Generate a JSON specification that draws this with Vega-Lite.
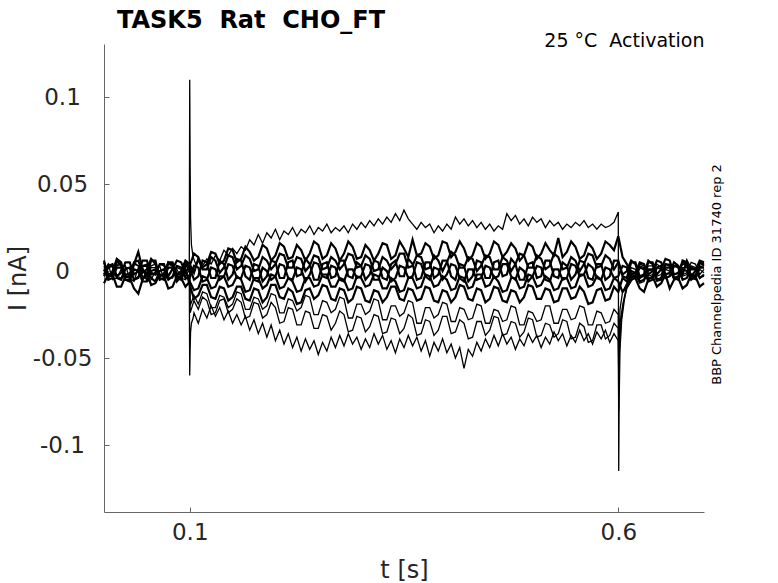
{
  "$schema": "https://vega.github.io/schema/vega-lite/v6.json",
  "width": 600,
  "height": 468,
  "autosize": {"type": "none"},
  "padding": {"left": 104, "top": 44, "right": 74, "bottom": 71},
  "background": "#FFFFFF",
  "config": {"view": {"stroke": null}, "font": "DejaVu Sans"},
  "title": {
    "text": "TASK5\u00a0 Rat\u00a0 CHO_FT",
    "anchor": "start",
    "frame": "group",
    "dx": 13,
    "offset": -21,
    "baseline": "alphabetic",
    "font": "DejaVu Sans",
    "fontSize": 24,
    "fontWeight": "bold",
    "color": "#000000"
  },
  "data": {
    "values": [
      {"k":"a","t":0,"v":0.002},{"k":"a","t":0.005,"v":-0.003},{"k":"a","t":0.01,"v":-0.003},{"k":"a","t":0.015,"v":0.003},{"k":"a","t":0.02,"v":0.004},
      {"k":"a","t":0.025,"v":-0.002},{"k":"a","t":0.03,"v":-0.002},{"k":"a","t":0.035,"v":0.004},{"k":"a","t":0.04,"v":0.003},{"k":"a","t":0.045,"v":-0.004},
      {"k":"a","t":0.05,"v":-0.004},{"k":"a","t":0.055,"v":0.002},{"k":"a","t":0.06,"v":0.002},{"k":"a","t":0.065,"v":-0.003},{"k":"a","t":0.07,"v":-0.001},
      {"k":"a","t":0.075,"v":0.005},{"k":"a","t":0.08,"v":0.004},{"k":"a","t":0.085,"v":-0.002},{"k":"a","t":0.09,"v":-0.002},{"k":"a","t":0.095,"v":0.003},
      {"k":"a","t":0.0995,"v":0.001},{"k":"a","t":0.1,"v":0.11},{"k":"a","t":0.1005,"v":0.06},{"k":"a","t":0.101,"v":0.03},{"k":"a","t":0.102,"v":0.015},
      {"k":"a","t":0.104,"v":0.008},{"k":"a","t":0.107,"v":0.004},
      {"k":"a","t":0.11,"v":0.006},{"k":"a","t":0.115,"v":0.003},{"k":"a","t":0.12,"v":0.007},{"k":"a","t":0.125,"v":0.004},{"k":"a","t":0.13,"v":0.009},
      {"k":"a","t":0.135,"v":0.006},{"k":"a","t":0.14,"v":0.012},{"k":"a","t":0.145,"v":0.009},{"k":"a","t":0.15,"v":0.013},{"k":"a","t":0.155,"v":0.01},
      {"k":"a","t":0.16,"v":0.014},{"k":"a","t":0.165,"v":0.012},{"k":"a","t":0.17,"v":0.018},{"k":"a","t":0.175,"v":0.015},{"k":"a","t":0.18,"v":0.021},
      {"k":"a","t":0.185,"v":0.016},{"k":"a","t":0.19,"v":0.022},{"k":"a","t":0.195,"v":0.019},{"k":"a","t":0.2,"v":0.024},{"k":"a","t":0.205,"v":0.018},
      {"k":"a","t":0.21,"v":0.023},{"k":"a","t":0.215,"v":0.021},{"k":"a","t":0.22,"v":0.025},{"k":"a","t":0.225,"v":0.02},{"k":"a","t":0.23,"v":0.024},
      {"k":"a","t":0.235,"v":0.022},{"k":"a","t":0.24,"v":0.026},{"k":"a","t":0.245,"v":0.021},{"k":"a","t":0.25,"v":0.025},{"k":"a","t":0.255,"v":0.023},
      {"k":"a","t":0.26,"v":0.027},{"k":"a","t":0.265,"v":0.022},{"k":"a","t":0.27,"v":0.025},{"k":"a","t":0.275,"v":0.023},{"k":"a","t":0.28,"v":0.026},
      {"k":"a","t":0.285,"v":0.022},{"k":"a","t":0.29,"v":0.027},{"k":"a","t":0.295,"v":0.024},{"k":"a","t":0.3,"v":0.028},{"k":"a","t":0.305,"v":0.025},
      {"k":"a","t":0.31,"v":0.029},{"k":"a","t":0.315,"v":0.026},{"k":"a","t":0.32,"v":0.03},{"k":"a","t":0.325,"v":0.027},{"k":"a","t":0.33,"v":0.031},
      {"k":"a","t":0.335,"v":0.028},{"k":"a","t":0.34,"v":0.033},{"k":"a","t":0.345,"v":0.029},{"k":"a","t":0.35,"v":0.035},{"k":"a","t":0.355,"v":0.03},
      {"k":"a","t":0.36,"v":0.027},{"k":"a","t":0.365,"v":0.024},{"k":"a","t":0.37,"v":0.028},{"k":"a","t":0.375,"v":0.025},{"k":"a","t":0.38,"v":0.027},
      {"k":"a","t":0.385,"v":0.022},{"k":"a","t":0.39,"v":0.026},{"k":"a","t":0.395,"v":0.023},{"k":"a","t":0.4,"v":0.027},{"k":"a","t":0.405,"v":0.024},
      {"k":"a","t":0.41,"v":0.031},{"k":"a","t":0.415,"v":0.027},{"k":"a","t":0.42,"v":0.03},{"k":"a","t":0.425,"v":0.026},{"k":"a","t":0.43,"v":0.029},
      {"k":"a","t":0.435,"v":0.025},{"k":"a","t":0.44,"v":0.028},{"k":"a","t":0.445,"v":0.024},{"k":"a","t":0.45,"v":0.027},{"k":"a","t":0.455,"v":0.023},
      {"k":"a","t":0.46,"v":0.026},{"k":"a","t":0.465,"v":0.024},{"k":"a","t":0.47,"v":0.033},{"k":"a","t":0.475,"v":0.029},{"k":"a","t":0.48,"v":0.032},
      {"k":"a","t":0.485,"v":0.027},{"k":"a","t":0.49,"v":0.03},{"k":"a","t":0.495,"v":0.026},{"k":"a","t":0.5,"v":0.031},{"k":"a","t":0.505,"v":0.028},
      {"k":"a","t":0.51,"v":0.03},{"k":"a","t":0.515,"v":0.025},{"k":"a","t":0.52,"v":0.029},{"k":"a","t":0.525,"v":0.026},{"k":"a","t":0.53,"v":0.028},
      {"k":"a","t":0.535,"v":0.024},{"k":"a","t":0.54,"v":0.027},{"k":"a","t":0.545,"v":0.025},{"k":"a","t":0.55,"v":0.028},{"k":"a","t":0.555,"v":0.026},
      {"k":"a","t":0.56,"v":0.029},{"k":"a","t":0.565,"v":0.025},{"k":"a","t":0.57,"v":0.027},{"k":"a","t":0.575,"v":0.024},{"k":"a","t":0.58,"v":0.027},
      {"k":"a","t":0.585,"v":0.025},{"k":"a","t":0.59,"v":0.026},{"k":"a","t":0.595,"v":0.028},{"k":"a","t":0.6,"v":0.034},
      {"k":"a","t":0.6005,"v":-0.115},{"k":"a","t":0.601,"v":-0.075},{"k":"a","t":0.602,"v":-0.045},{"k":"a","t":0.604,"v":-0.028},{"k":"a","t":0.607,"v":-0.017},
      {"k":"a","t":0.61,"v":-0.009},{"k":"a","t":0.615,"v":-0.005},{"k":"a","t":0.62,"v":-0.002},{"k":"a","t":0.625,"v":0.004},{"k":"a","t":0.63,"v":0.003},
      {"k":"a","t":0.635,"v":-0.003},{"k":"a","t":0.64,"v":-0.002},{"k":"a","t":0.645,"v":0.004},{"k":"a","t":0.65,"v":0.002},{"k":"a","t":0.655,"v":-0.004},
      {"k":"a","t":0.66,"v":-0.003},{"k":"a","t":0.665,"v":0.003},{"k":"a","t":0.67,"v":0.003},{"k":"a","t":0.675,"v":-0.002},{"k":"a","t":0.68,"v":-0.001},
      {"k":"a","t":0.685,"v":0.005},{"k":"a","t":0.69,"v":0.004},{"k":"a","t":0.695,"v":-0.002},{"k":"a","t":0.7,"v":0.001},

      {"k":"b","t":0,"v":-0.002},{"k":"b","t":0.005,"v":0.003},{"k":"b","t":0.01,"v":0.004},{"k":"b","t":0.015,"v":-0.003},{"k":"b","t":0.02,"v":-0.001},
      {"k":"b","t":0.025,"v":0.005},{"k":"b","t":0.03,"v":0.005},{"k":"b","t":0.035,"v":-0.002},{"k":"b","t":0.04,"v":0},{"k":"b","t":0.045,"v":0.006},
      {"k":"b","t":0.05,"v":0.006},{"k":"b","t":0.055,"v":-0.001},{"k":"b","t":0.06,"v":-0.002},{"k":"b","t":0.065,"v":0.004},{"k":"b","t":0.07,"v":0.004},
      {"k":"b","t":0.075,"v":-0.003},{"k":"b","t":0.08,"v":0.001},{"k":"b","t":0.085,"v":0.006},{"k":"b","t":0.09,"v":0.005},{"k":"b","t":0.095,"v":-0.001},
      {"k":"b","t":0.1,"v":0.003},{"k":"b","t":0.105,"v":0.01},{"k":"b","t":0.11,"v":0.008},{"k":"b","t":0.115,"v":0.002},{"k":"b","t":0.12,"v":0.004},
      {"k":"b","t":0.125,"v":0.011},{"k":"b","t":0.13,"v":0.01},{"k":"b","t":0.135,"v":0.004},{"k":"b","t":0.14,"v":0.006},{"k":"b","t":0.145,"v":0.013},
      {"k":"b","t":0.15,"v":0.012},{"k":"b","t":0.155,"v":0.005},{"k":"b","t":0.16,"v":0.007},{"k":"b","t":0.165,"v":0.014},{"k":"b","t":0.17,"v":0.011},
      {"k":"b","t":0.175,"v":0.006},{"k":"b","t":0.18,"v":0.008},{"k":"b","t":0.185,"v":0.015},{"k":"b","t":0.19,"v":0.013},{"k":"b","t":0.195,"v":0.006},
      {"k":"b","t":0.2,"v":0.009},{"k":"b","t":0.205,"v":0.016},{"k":"b","t":0.21,"v":0.014},{"k":"b","t":0.215,"v":0.007},{"k":"b","t":0.22,"v":0.008},
      {"k":"b","t":0.225,"v":0.015},{"k":"b","t":0.23,"v":0.012},{"k":"b","t":0.235,"v":0.006},{"k":"b","t":0.24,"v":0.01},{"k":"b","t":0.245,"v":0.017},
      {"k":"b","t":0.25,"v":0.015},{"k":"b","t":0.255,"v":0.007},{"k":"b","t":0.26,"v":0.009},{"k":"b","t":0.265,"v":0.016},{"k":"b","t":0.27,"v":0.013},
      {"k":"b","t":0.275,"v":0.006},{"k":"b","t":0.28,"v":0.01},{"k":"b","t":0.285,"v":0.017},{"k":"b","t":0.29,"v":0.014},{"k":"b","t":0.295,"v":0.007},
      {"k":"b","t":0.3,"v":0.008},{"k":"b","t":0.305,"v":0.015},{"k":"b","t":0.31,"v":0.012},{"k":"b","t":0.315,"v":0.006},{"k":"b","t":0.32,"v":0.01},
      {"k":"b","t":0.325,"v":0.016},{"k":"b","t":0.33,"v":0.015},{"k":"b","t":0.335,"v":0.007},{"k":"b","t":0.34,"v":0.009},{"k":"b","t":0.345,"v":0.017},
      {"k":"b","t":0.35,"v":0.013},{"k":"b","t":0.355,"v":0.008},{"k":"b","t":0.36,"v":0.018},{"k":"b","t":0.365,"v":0.009},{"k":"b","t":0.37,"v":0.01},
      {"k":"b","t":0.375,"v":0.016},{"k":"b","t":0.38,"v":0.014},{"k":"b","t":0.385,"v":0.007},{"k":"b","t":0.39,"v":0.009},{"k":"b","t":0.395,"v":0.017},
      {"k":"b","t":0.4,"v":0.016},{"k":"b","t":0.405,"v":0.008},{"k":"b","t":0.41,"v":0.011},{"k":"b","t":0.415,"v":0.017},{"k":"b","t":0.42,"v":0.013},
      {"k":"b","t":0.425,"v":0.006},{"k":"b","t":0.43,"v":0.009},{"k":"b","t":0.435,"v":0.016},{"k":"b","t":0.44,"v":0.014},{"k":"b","t":0.445,"v":0.007},
      {"k":"b","t":0.45,"v":0.01},{"k":"b","t":0.455,"v":0.017},{"k":"b","t":0.46,"v":0.015},{"k":"b","t":0.465,"v":0.008},{"k":"b","t":0.47,"v":0.011},
      {"k":"b","t":0.475,"v":0.016},{"k":"b","t":0.48,"v":0.013},{"k":"b","t":0.485,"v":0.006},{"k":"b","t":0.49,"v":0.009},{"k":"b","t":0.495,"v":0.016},
      {"k":"b","t":0.5,"v":0.014},{"k":"b","t":0.505,"v":0.007},{"k":"b","t":0.51,"v":0.01},{"k":"b","t":0.515,"v":0.016},{"k":"b","t":0.52,"v":0.012},
      {"k":"b","t":0.525,"v":0.009},{"k":"b","t":0.53,"v":0.019},{"k":"b","t":0.535,"v":0.008},{"k":"b","t":0.54,"v":0.011},{"k":"b","t":0.545,"v":0.017},
      {"k":"b","t":0.55,"v":0.014},{"k":"b","t":0.555,"v":0.007},{"k":"b","t":0.56,"v":0.009},{"k":"b","t":0.565,"v":0.016},{"k":"b","t":0.57,"v":0.013},
      {"k":"b","t":0.575,"v":0.007},{"k":"b","t":0.58,"v":0.01},{"k":"b","t":0.585,"v":0.017},{"k":"b","t":0.59,"v":0.015},{"k":"b","t":0.595,"v":0.012},
      {"k":"b","t":0.6,"v":0.02},{"k":"b","t":0.605,"v":0.008},{"k":"b","t":0.61,"v":0.004},{"k":"b","t":0.615,"v":-0.002},{"k":"b","t":0.62,"v":-0.001},
      {"k":"b","t":0.625,"v":0.005},{"k":"b","t":0.63,"v":0.004},{"k":"b","t":0.635,"v":-0.002},{"k":"b","t":0.64,"v":0},{"k":"b","t":0.645,"v":0.006},
      {"k":"b","t":0.65,"v":0.005},{"k":"b","t":0.655,"v":-0.002},{"k":"b","t":0.66,"v":-0.001},{"k":"b","t":0.665,"v":0.005},{"k":"b","t":0.67,"v":0.003},
      {"k":"b","t":0.675,"v":-0.002},{"k":"b","t":0.68,"v":0.006},{"k":"b","t":0.685,"v":0.001},{"k":"b","t":0.69,"v":0.001},{"k":"b","t":0.695,"v":0.005},
      {"k":"b","t":0.7,"v":0.004},

      {"k":"c","t":0,"v":0.005},{"k":"c","t":0.005,"v":-0.002},{"k":"c","t":0.01,"v":-0.001},{"k":"c","t":0.015,"v":0.006},{"k":"c","t":0.02,"v":0.003},
      {"k":"c","t":0.025,"v":-0.003},{"k":"c","t":0.03,"v":-0.003},{"k":"c","t":0.035,"v":0.005},{"k":"c","t":0.04,"v":0.006},{"k":"c","t":0.045,"v":-0.001},
      {"k":"c","t":0.05,"v":0.001},{"k":"c","t":0.055,"v":0.007},{"k":"c","t":0.06,"v":0.004},{"k":"c","t":0.065,"v":-0.003},{"k":"c","t":0.07,"v":-0.002},
      {"k":"c","t":0.075,"v":0.005},{"k":"c","t":0.08,"v":0.005},{"k":"c","t":0.085,"v":-0.002},{"k":"c","t":0.09,"v":0},{"k":"c","t":0.095,"v":0.006},
      {"k":"c","t":0.1,"v":0.004},{"k":"c","t":0.105,"v":-0.001},{"k":"c","t":0.11,"v":0.007},{"k":"c","t":0.115,"v":0.001},{"k":"c","t":0.12,"v":0.001},
      {"k":"c","t":0.125,"v":0.008},{"k":"c","t":0.13,"v":0.006},{"k":"c","t":0.135,"v":-0.001},{"k":"c","t":0.14,"v":0.002},{"k":"c","t":0.145,"v":0.009},
      {"k":"c","t":0.15,"v":0.008},{"k":"c","t":0.155,"v":0.001},{"k":"c","t":0.16,"v":0.003},{"k":"c","t":0.165,"v":0.009},{"k":"c","t":0.17,"v":0.007},
      {"k":"c","t":0.175,"v":0},{"k":"c","t":0.18,"v":0.001},{"k":"c","t":0.185,"v":0.008},{"k":"c","t":0.19,"v":0.006},{"k":"c","t":0.195,"v":0.001},
      {"k":"c","t":0.2,"v":0.004},{"k":"c","t":0.205,"v":0.01},{"k":"c","t":0.21,"v":0.009},{"k":"c","t":0.215,"v":0.002},{"k":"c","t":0.22,"v":0.002},
      {"k":"c","t":0.225,"v":0.008},{"k":"c","t":0.23,"v":0.007},{"k":"c","t":0.235,"v":0},{"k":"c","t":0.24,"v":0.003},{"k":"c","t":0.245,"v":0.009},
      {"k":"c","t":0.25,"v":0.008},{"k":"c","t":0.255,"v":0.001},{"k":"c","t":0.26,"v":0.002},{"k":"c","t":0.265,"v":0.008},{"k":"c","t":0.27,"v":0.006},
      {"k":"c","t":0.275,"v":0.001},{"k":"c","t":0.28,"v":0.004},{"k":"c","t":0.285,"v":0.01},{"k":"c","t":0.29,"v":0.009},{"k":"c","t":0.295,"v":0.002},
      {"k":"c","t":0.3,"v":0.003},{"k":"c","t":0.305,"v":0.009},{"k":"c","t":0.31,"v":0.007},{"k":"c","t":0.315,"v":0},{"k":"c","t":0.32,"v":0.001},
      {"k":"c","t":0.325,"v":0.008},{"k":"c","t":0.33,"v":0.006},{"k":"c","t":0.335,"v":0.001},{"k":"c","t":0.34,"v":0.004},{"k":"c","t":0.345,"v":0.01},
      {"k":"c","t":0.35,"v":0.01},{"k":"c","t":0.355,"v":0.002},{"k":"c","t":0.36,"v":0.003},{"k":"c","t":0.365,"v":0.009},{"k":"c","t":0.37,"v":0.008},
      {"k":"c","t":0.375,"v":0.001},{"k":"c","t":0.38,"v":0.002},{"k":"c","t":0.385,"v":0.009},{"k":"c","t":0.39,"v":0.006},{"k":"c","t":0.395,"v":0},
      {"k":"c","t":0.4,"v":0.005},{"k":"c","t":0.405,"v":0.011},{"k":"c","t":0.41,"v":0.009},{"k":"c","t":0.415,"v":0.002},{"k":"c","t":0.42,"v":0.002},
      {"k":"c","t":0.425,"v":0.008},{"k":"c","t":0.43,"v":0.007},{"k":"c","t":0.435,"v":0},{"k":"c","t":0.44,"v":0.003},{"k":"c","t":0.445,"v":0.009},
      {"k":"c","t":0.45,"v":0.008},{"k":"c","t":0.455,"v":0.001},{"k":"c","t":0.46,"v":0.001},{"k":"c","t":0.465,"v":0.008},{"k":"c","t":0.47,"v":0.006},
      {"k":"c","t":0.475,"v":0},{"k":"c","t":0.48,"v":0.004},{"k":"c","t":0.485,"v":0.01},{"k":"c","t":0.49,"v":0.009},{"k":"c","t":0.495,"v":0.002},
      {"k":"c","t":0.5,"v":0.002},{"k":"c","t":0.505,"v":0.009},{"k":"c","t":0.51,"v":0.007},{"k":"c","t":0.515,"v":0.001},{"k":"c","t":0.52,"v":0.003},
      {"k":"c","t":0.525,"v":0.01},{"k":"c","t":0.53,"v":0.008},{"k":"c","t":0.535,"v":0.001},{"k":"c","t":0.54,"v":0.002},{"k":"c","t":0.545,"v":0.008},
      {"k":"c","t":0.55,"v":0.006},{"k":"c","t":0.555,"v":0},{"k":"c","t":0.56,"v":0.004},{"k":"c","t":0.565,"v":0.01},{"k":"c","t":0.57,"v":0.009},
      {"k":"c","t":0.575,"v":0.002},{"k":"c","t":0.58,"v":0.003},{"k":"c","t":0.585,"v":0.009},{"k":"c","t":0.59,"v":0.007},{"k":"c","t":0.595,"v":0.001},
      {"k":"c","t":0.6,"v":0.005},{"k":"c","t":0.605,"v":-0.002},{"k":"c","t":0.61,"v":0},{"k":"c","t":0.615,"v":0.006},{"k":"c","t":0.62,"v":0.004},
      {"k":"c","t":0.625,"v":-0.003},{"k":"c","t":0.63,"v":-0.002},{"k":"c","t":0.635,"v":0.005},{"k":"c","t":0.64,"v":0.005},{"k":"c","t":0.645,"v":-0.002},
      {"k":"c","t":0.65,"v":0.001},{"k":"c","t":0.655,"v":0.007},{"k":"c","t":0.66,"v":0.006},{"k":"c","t":0.665,"v":-0.002},{"k":"c","t":0.67,"v":-0.001},
      {"k":"c","t":0.675,"v":0.005},{"k":"c","t":0.68,"v":0.004},{"k":"c","t":0.685,"v":-0.003},{"k":"c","t":0.69,"v":0},{"k":"c","t":0.695,"v":0.006},
      {"k":"c","t":0.7,"v":0.005},

      {"k":"d","t":0,"v":-0.003},{"k":"d","t":0.005,"v":0.002},{"k":"d","t":0.01,"v":0.003},{"k":"d","t":0.015,"v":-0.004},{"k":"d","t":0.02,"v":-0.005},
      {"k":"d","t":0.025,"v":0.001},{"k":"d","t":0.03,"v":0.002},{"k":"d","t":0.035,"v":-0.005},{"k":"d","t":0.04,"v":-0.004},{"k":"d","t":0.045,"v":0.003},
      {"k":"d","t":0.05,"v":0.003},{"k":"d","t":0.055,"v":-0.004},{"k":"d","t":0.06,"v":-0.006},{"k":"d","t":0.065,"v":0},{"k":"d","t":0.07,"v":0.001},
      {"k":"d","t":0.075,"v":-0.005},{"k":"d","t":0.08,"v":-0.003},{"k":"d","t":0.085,"v":0.003},{"k":"d","t":0.09,"v":0.002},{"k":"d","t":0.095,"v":-0.004},
      {"k":"d","t":0.1,"v":-0.004},{"k":"d","t":0.105,"v":0.003},{"k":"d","t":0.11,"v":0.002},{"k":"d","t":0.115,"v":-0.006},{"k":"d","t":0.12,"v":-0.005},
      {"k":"d","t":0.125,"v":0.002},{"k":"d","t":0.13,"v":0.001},{"k":"d","t":0.135,"v":-0.005},{"k":"d","t":0.14,"v":-0.003},{"k":"d","t":0.145,"v":0.004},
      {"k":"d","t":0.15,"v":0.003},{"k":"d","t":0.155,"v":-0.004},{"k":"d","t":0.16,"v":-0.004},{"k":"d","t":0.165,"v":0.003},{"k":"d","t":0.17,"v":0.002},
      {"k":"d","t":0.175,"v":-0.005},{"k":"d","t":0.18,"v":-0.006},{"k":"d","t":0.185,"v":0.002},{"k":"d","t":0.19,"v":0},{"k":"d","t":0.195,"v":-0.005},
      {"k":"d","t":0.2,"v":-0.003},{"k":"d","t":0.205,"v":0.004},{"k":"d","t":0.21,"v":0.003},{"k":"d","t":0.215,"v":-0.004},{"k":"d","t":0.22,"v":-0.005},
      {"k":"d","t":0.225,"v":0.002},{"k":"d","t":0.23,"v":0.001},{"k":"d","t":0.235,"v":-0.006},{"k":"d","t":0.24,"v":-0.002},{"k":"d","t":0.245,"v":0.005},
      {"k":"d","t":0.25,"v":0.004},{"k":"d","t":0.255,"v":-0.003},{"k":"d","t":0.26,"v":-0.004},{"k":"d","t":0.265,"v":0.003},{"k":"d","t":0.27,"v":0.002},
      {"k":"d","t":0.275,"v":-0.005},{"k":"d","t":0.28,"v":-0.006},{"k":"d","t":0.285,"v":0.001},{"k":"d","t":0.29,"v":0.001},{"k":"d","t":0.295,"v":-0.004},
      {"k":"d","t":0.3,"v":-0.003},{"k":"d","t":0.305,"v":0.004},{"k":"d","t":0.31,"v":0.003},{"k":"d","t":0.315,"v":-0.005},{"k":"d","t":0.32,"v":-0.005},
      {"k":"d","t":0.325,"v":0.002},{"k":"d","t":0.33,"v":0},{"k":"d","t":0.335,"v":-0.006},{"k":"d","t":0.34,"v":-0.004},{"k":"d","t":0.345,"v":0.003},
      {"k":"d","t":0.35,"v":0.002},{"k":"d","t":0.355,"v":-0.004},{"k":"d","t":0.36,"v":-0.003},{"k":"d","t":0.365,"v":0.005},{"k":"d","t":0.37,"v":0.004},
      {"k":"d","t":0.375,"v":-0.003},{"k":"d","t":0.38,"v":-0.005},{"k":"d","t":0.385,"v":0.002},{"k":"d","t":0.39,"v":0.001},{"k":"d","t":0.395,"v":-0.005},
      {"k":"d","t":0.4,"v":-0.002},{"k":"d","t":0.405,"v":0.004},{"k":"d","t":0.41,"v":0.003},{"k":"d","t":0.415,"v":-0.004},{"k":"d","t":0.42,"v":-0.006},
      {"k":"d","t":0.425,"v":0.001},{"k":"d","t":0.43,"v":0.001},{"k":"d","t":0.435,"v":-0.005},{"k":"d","t":0.44,"v":-0.004},{"k":"d","t":0.445,"v":0.003},
      {"k":"d","t":0.45,"v":0.002},{"k":"d","t":0.455,"v":-0.004},{"k":"d","t":0.46,"v":-0.003},{"k":"d","t":0.465,"v":0.004},{"k":"d","t":0.47,"v":0.004},
      {"k":"d","t":0.475,"v":-0.003},{"k":"d","t":0.48,"v":-0.005},{"k":"d","t":0.485,"v":0.002},{"k":"d","t":0.49,"v":0},{"k":"d","t":0.495,"v":-0.006},
      {"k":"d","t":0.5,"v":-0.003},{"k":"d","t":0.505,"v":0.003},{"k":"d","t":0.51,"v":0.002},{"k":"d","t":0.515,"v":-0.005},{"k":"d","t":0.52,"v":-0.006},
      {"k":"d","t":0.525,"v":0.001},{"k":"d","t":0.53,"v":0.001},{"k":"d","t":0.535,"v":-0.005},{"k":"d","t":0.54,"v":-0.004},{"k":"d","t":0.545,"v":0.004},
      {"k":"d","t":0.55,"v":0.003},{"k":"d","t":0.555,"v":-0.003},{"k":"d","t":0.56,"v":-0.002},{"k":"d","t":0.565,"v":0.004},{"k":"d","t":0.57,"v":0.002},
      {"k":"d","t":0.575,"v":-0.004},{"k":"d","t":0.58,"v":-0.005},{"k":"d","t":0.585,"v":0.002},{"k":"d","t":0.59,"v":0.001},{"k":"d","t":0.595,"v":-0.004},
      {"k":"d","t":0.6,"v":-0.003},{"k":"d","t":0.605,"v":0.003},{"k":"d","t":0.61,"v":0.002},{"k":"d","t":0.615,"v":-0.005},{"k":"d","t":0.62,"v":-0.004},
      {"k":"d","t":0.625,"v":0.002},{"k":"d","t":0.63,"v":0.001},{"k":"d","t":0.635,"v":-0.006},{"k":"d","t":0.64,"v":-0.005},{"k":"d","t":0.645,"v":0.002},
      {"k":"d","t":0.65,"v":0.003},{"k":"d","t":0.655,"v":-0.004},{"k":"d","t":0.66,"v":-0.003},{"k":"d","t":0.665,"v":0.003},{"k":"d","t":0.67,"v":0.002},
      {"k":"d","t":0.675,"v":-0.005},{"k":"d","t":0.68,"v":-0.004},{"k":"d","t":0.685,"v":0.002},{"k":"d","t":0.69,"v":0.001},{"k":"d","t":0.695,"v":-0.004},
      {"k":"d","t":0.7,"v":-0.002},

      {"k":"e","t":0,"v":-0.007},{"k":"e","t":0.005,"v":-0.002},{"k":"e","t":0.01,"v":-0.002},{"k":"e","t":0.015,"v":-0.009},{"k":"e","t":0.02,"v":-0.009},
      {"k":"e","t":0.025,"v":-0.003},{"k":"e","t":0.03,"v":-0.004},{"k":"e","t":0.035,"v":-0.01},{"k":"e","t":0.04,"v":-0.013},{"k":"e","t":0.045,"v":-0.005},
      {"k":"e","t":0.05,"v":-0.001},{"k":"e","t":0.055,"v":-0.008},{"k":"e","t":0.06,"v":-0.007},{"k":"e","t":0.065,"v":-0.002},{"k":"e","t":0.07,"v":-0.003},
      {"k":"e","t":0.075,"v":-0.01},{"k":"e","t":0.08,"v":-0.009},{"k":"e","t":0.085,"v":-0.003},{"k":"e","t":0.09,"v":-0.004},{"k":"e","t":0.095,"v":-0.009},
      {"k":"e","t":0.1,"v":-0.006},{"k":"e","t":0.105,"v":-0.011},{"k":"e","t":0.11,"v":-0.01},{"k":"e","t":0.115,"v":-0.003},{"k":"e","t":0.12,"v":-0.004},
      {"k":"e","t":0.125,"v":-0.01},{"k":"e","t":0.13,"v":-0.009},{"k":"e","t":0.135,"v":-0.003},{"k":"e","t":0.14,"v":-0.003},{"k":"e","t":0.145,"v":-0.009},
      {"k":"e","t":0.15,"v":-0.008},{"k":"e","t":0.155,"v":-0.003},{"k":"e","t":0.16,"v":-0.005},{"k":"e","t":0.165,"v":-0.012},{"k":"e","t":0.17,"v":-0.011},
      {"k":"e","t":0.175,"v":-0.004},{"k":"e","t":0.18,"v":-0.004},{"k":"e","t":0.185,"v":-0.01},{"k":"e","t":0.19,"v":-0.008},{"k":"e","t":0.195,"v":-0.002},
      {"k":"e","t":0.2,"v":-0.003},{"k":"e","t":0.205,"v":-0.01},{"k":"e","t":0.21,"v":-0.009},{"k":"e","t":0.215,"v":-0.004},{"k":"e","t":0.22,"v":-0.006},
      {"k":"e","t":0.225,"v":-0.012},{"k":"e","t":0.23,"v":-0.011},{"k":"e","t":0.235,"v":-0.004},{"k":"e","t":0.24,"v":-0.004},{"k":"e","t":0.245,"v":-0.009},
      {"k":"e","t":0.25,"v":-0.008},{"k":"e","t":0.255,"v":-0.002},{"k":"e","t":0.26,"v":-0.002},{"k":"e","t":0.265,"v":-0.009},{"k":"e","t":0.27,"v":-0.009},
      {"k":"e","t":0.275,"v":-0.004},{"k":"e","t":0.28,"v":-0.005},{"k":"e","t":0.285,"v":-0.011},{"k":"e","t":0.29,"v":-0.01},{"k":"e","t":0.295,"v":-0.003},
      {"k":"e","t":0.3,"v":-0.004},{"k":"e","t":0.305,"v":-0.009},{"k":"e","t":0.31,"v":-0.008},{"k":"e","t":0.315,"v":-0.002},{"k":"e","t":0.32,"v":-0.003},
      {"k":"e","t":0.325,"v":-0.01},{"k":"e","t":0.33,"v":-0.01},{"k":"e","t":0.335,"v":-0.004},{"k":"e","t":0.34,"v":-0.006},{"k":"e","t":0.345,"v":-0.012},
      {"k":"e","t":0.35,"v":-0.011},{"k":"e","t":0.355,"v":-0.004},{"k":"e","t":0.36,"v":-0.004},{"k":"e","t":0.365,"v":-0.01},{"k":"e","t":0.37,"v":-0.009},
      {"k":"e","t":0.375,"v":-0.002},{"k":"e","t":0.38,"v":-0.003},{"k":"e","t":0.385,"v":-0.009},{"k":"e","t":0.39,"v":-0.008},{"k":"e","t":0.395,"v":-0.003},
      {"k":"e","t":0.4,"v":-0.005},{"k":"e","t":0.405,"v":-0.011},{"k":"e","t":0.41,"v":-0.01},{"k":"e","t":0.415,"v":-0.003},{"k":"e","t":0.42,"v":-0.004},
      {"k":"e","t":0.425,"v":-0.01},{"k":"e","t":0.43,"v":-0.009},{"k":"e","t":0.435,"v":-0.002},{"k":"e","t":0.44,"v":-0.002},{"k":"e","t":0.445,"v":-0.009},
      {"k":"e","t":0.45,"v":-0.008},{"k":"e","t":0.455,"v":-0.003},{"k":"e","t":0.46,"v":-0.006},{"k":"e","t":0.465,"v":-0.012},{"k":"e","t":0.47,"v":-0.011},
      {"k":"e","t":0.475,"v":-0.004},{"k":"e","t":0.48,"v":-0.004},{"k":"e","t":0.485,"v":-0.01},{"k":"e","t":0.49,"v":-0.009},{"k":"e","t":0.495,"v":-0.002},
      {"k":"e","t":0.5,"v":-0.003},{"k":"e","t":0.505,"v":-0.009},{"k":"e","t":0.51,"v":-0.008},{"k":"e","t":0.515,"v":-0.003},{"k":"e","t":0.52,"v":-0.005},
      {"k":"e","t":0.525,"v":-0.011},{"k":"e","t":0.53,"v":-0.01},{"k":"e","t":0.535,"v":-0.004},{"k":"e","t":0.54,"v":-0.004},{"k":"e","t":0.545,"v":-0.01},
      {"k":"e","t":0.55,"v":-0.009},{"k":"e","t":0.555,"v":-0.002},{"k":"e","t":0.56,"v":-0.002},{"k":"e","t":0.565,"v":-0.009},{"k":"e","t":0.57,"v":-0.008},
      {"k":"e","t":0.575,"v":-0.003},{"k":"e","t":0.58,"v":-0.005},{"k":"e","t":0.585,"v":-0.011},{"k":"e","t":0.59,"v":-0.01},{"k":"e","t":0.595,"v":-0.004},
      {"k":"e","t":0.6,"v":-0.006},{"k":"e","t":0.605,"v":-0.012},{"k":"e","t":0.61,"v":-0.009},{"k":"e","t":0.615,"v":-0.003},{"k":"e","t":0.62,"v":-0.004},
      {"k":"e","t":0.625,"v":-0.01},{"k":"e","t":0.63,"v":-0.012},{"k":"e","t":0.635,"v":-0.005},{"k":"e","t":0.64,"v":-0.003},{"k":"e","t":0.645,"v":-0.009},
      {"k":"e","t":0.65,"v":-0.007},{"k":"e","t":0.655,"v":-0.002},{"k":"e","t":0.66,"v":-0.01},{"k":"e","t":0.665,"v":-0.005},{"k":"e","t":0.67,"v":-0.004},
      {"k":"e","t":0.675,"v":-0.01},{"k":"e","t":0.68,"v":-0.008},{"k":"e","t":0.685,"v":-0.002},{"k":"e","t":0.69,"v":-0.003},{"k":"e","t":0.695,"v":-0.009},
      {"k":"e","t":0.7,"v":-0.007},

      {"k":"f","t":0,"v":0.001},{"k":"f","t":0.005,"v":-0.005},{"k":"f","t":0.01,"v":-0.004},{"k":"f","t":0.015,"v":0.002},{"k":"f","t":0.02,"v":0.002},
      {"k":"f","t":0.025,"v":-0.005},{"k":"f","t":0.03,"v":-0.005},{"k":"f","t":0.035,"v":0.001},{"k":"f","t":0.04,"v":0},{"k":"f","t":0.045,"v":-0.006},
      {"k":"f","t":0.05,"v":-0.006},{"k":"f","t":0.055,"v":0},{"k":"f","t":0.06,"v":0.001},{"k":"f","t":0.065,"v":-0.005},{"k":"f","t":0.07,"v":-0.004},
      {"k":"f","t":0.075,"v":0.002},{"k":"f","t":0.08,"v":0.002},{"k":"f","t":0.085,"v":-0.004},{"k":"f","t":0.09,"v":-0.005},{"k":"f","t":0.095,"v":0.001},
      {"k":"f","t":0.1,"v":-0.008},{"k":"f","t":0.105,"v":-0.016},{"k":"f","t":0.11,"v":-0.014},{"k":"f","t":0.115,"v":-0.008},{"k":"f","t":0.12,"v":-0.008},
      {"k":"f","t":0.125,"v":-0.015},{"k":"f","t":0.13,"v":-0.016},{"k":"f","t":0.135,"v":-0.009},{"k":"f","t":0.14,"v":-0.01},{"k":"f","t":0.145,"v":-0.017},
      {"k":"f","t":0.15,"v":-0.015},{"k":"f","t":0.155,"v":-0.009},{"k":"f","t":0.16,"v":-0.009},{"k":"f","t":0.165,"v":-0.016},{"k":"f","t":0.17,"v":-0.017},
      {"k":"f","t":0.175,"v":-0.01},{"k":"f","t":0.18,"v":-0.011},{"k":"f","t":0.185,"v":-0.018},{"k":"f","t":0.19,"v":-0.015},{"k":"f","t":0.195,"v":-0.008},
      {"k":"f","t":0.2,"v":-0.008},{"k":"f","t":0.205,"v":-0.015},{"k":"f","t":0.21,"v":-0.016},{"k":"f","t":0.215,"v":-0.01},{"k":"f","t":0.22,"v":-0.012},
      {"k":"f","t":0.225,"v":-0.019},{"k":"f","t":0.23,"v":-0.018},{"k":"f","t":0.235,"v":-0.011},{"k":"f","t":0.24,"v":-0.01},{"k":"f","t":0.245,"v":-0.016},
      {"k":"f","t":0.25,"v":-0.014},{"k":"f","t":0.255,"v":-0.008},{"k":"f","t":0.26,"v":-0.009},{"k":"f","t":0.265,"v":-0.016},{"k":"f","t":0.27,"v":-0.017},
      {"k":"f","t":0.275,"v":-0.01},{"k":"f","t":0.28,"v":-0.011},{"k":"f","t":0.285,"v":-0.018},{"k":"f","t":0.29,"v":-0.016},{"k":"f","t":0.295,"v":-0.009},
      {"k":"f","t":0.3,"v":-0.01},{"k":"f","t":0.305,"v":-0.017},{"k":"f","t":0.31,"v":-0.018},{"k":"f","t":0.315,"v":-0.011},{"k":"f","t":0.32,"v":-0.012},
      {"k":"f","t":0.325,"v":-0.018},{"k":"f","t":0.33,"v":-0.015},{"k":"f","t":0.335,"v":-0.009},{"k":"f","t":0.34,"v":-0.009},{"k":"f","t":0.345,"v":-0.016},
      {"k":"f","t":0.35,"v":-0.017},{"k":"f","t":0.355,"v":-0.01},{"k":"f","t":0.36,"v":-0.011},{"k":"f","t":0.365,"v":-0.017},{"k":"f","t":0.37,"v":-0.016},
      {"k":"f","t":0.375,"v":-0.009},{"k":"f","t":0.38,"v":-0.01},{"k":"f","t":0.385,"v":-0.017},{"k":"f","t":0.39,"v":-0.018},{"k":"f","t":0.395,"v":-0.011},
      {"k":"f","t":0.4,"v":-0.012},{"k":"f","t":0.405,"v":-0.018},{"k":"f","t":0.41,"v":-0.015},{"k":"f","t":0.415,"v":-0.008},{"k":"f","t":0.42,"v":-0.009},
      {"k":"f","t":0.425,"v":-0.016},{"k":"f","t":0.43,"v":-0.017},{"k":"f","t":0.435,"v":-0.01},{"k":"f","t":0.44,"v":-0.011},{"k":"f","t":0.445,"v":-0.018},
      {"k":"f","t":0.45,"v":-0.016},{"k":"f","t":0.455,"v":-0.009},{"k":"f","t":0.46,"v":-0.01},{"k":"f","t":0.465,"v":-0.017},{"k":"f","t":0.47,"v":-0.018},
      {"k":"f","t":0.475,"v":-0.011},{"k":"f","t":0.48,"v":-0.012},{"k":"f","t":0.485,"v":-0.018},{"k":"f","t":0.49,"v":-0.015},{"k":"f","t":0.495,"v":-0.008},
      {"k":"f","t":0.5,"v":-0.009},{"k":"f","t":0.505,"v":-0.016},{"k":"f","t":0.51,"v":-0.016},{"k":"f","t":0.515,"v":-0.01},{"k":"f","t":0.52,"v":-0.011},
      {"k":"f","t":0.525,"v":-0.018},{"k":"f","t":0.53,"v":-0.017},{"k":"f","t":0.535,"v":-0.01},{"k":"f","t":0.54,"v":-0.01},{"k":"f","t":0.545,"v":-0.016},
      {"k":"f","t":0.55,"v":-0.015},{"k":"f","t":0.555,"v":-0.009},{"k":"f","t":0.56,"v":-0.012},{"k":"f","t":0.565,"v":-0.019},{"k":"f","t":0.57,"v":-0.018},
      {"k":"f","t":0.575,"v":-0.011},{"k":"f","t":0.58,"v":-0.01},{"k":"f","t":0.585,"v":-0.017},{"k":"f","t":0.59,"v":-0.016},{"k":"f","t":0.595,"v":-0.009},
      {"k":"f","t":0.6,"v":-0.012},{"k":"f","t":0.605,"v":-0.004},{"k":"f","t":0.61,"v":-0.006},{"k":"f","t":0.615,"v":0},{"k":"f","t":0.62,"v":-0.001},
      {"k":"f","t":0.625,"v":-0.006},{"k":"f","t":0.63,"v":-0.005},{"k":"f","t":0.635,"v":0.001},{"k":"f","t":0.64,"v":0.001},{"k":"f","t":0.645,"v":-0.005},
      {"k":"f","t":0.65,"v":-0.004},{"k":"f","t":0.655,"v":0.002},{"k":"f","t":0.66,"v":0.002},{"k":"f","t":0.665,"v":-0.004},{"k":"f","t":0.67,"v":-0.005},
      {"k":"f","t":0.675,"v":0.001},{"k":"f","t":0.68,"v":0},{"k":"f","t":0.685,"v":-0.005},{"k":"f","t":0.69,"v":-0.003},{"k":"f","t":0.695,"v":0.002},
      {"k":"f","t":0.7,"v":0.002},

      {"k":"g","t":0,"v":-0.002},{"k":"g","t":0.005,"v":0.004},{"k":"g","t":0.01,"v":0.003},{"k":"g","t":0.015,"v":-0.003},{"k":"g","t":0.02,"v":-0.004},
      {"k":"g","t":0.025,"v":0.002},{"k":"g","t":0.03,"v":0.002},{"k":"g","t":0.035,"v":-0.005},{"k":"g","t":0.04,"v":-0.003},{"k":"g","t":0.045,"v":0.003},
      {"k":"g","t":0.05,"v":0.004},{"k":"g","t":0.055,"v":-0.002},{"k":"g","t":0.06,"v":-0.002},{"k":"g","t":0.065,"v":0.004},{"k":"g","t":0.07,"v":0.003},
      {"k":"g","t":0.075,"v":-0.004},{"k":"g","t":0.08,"v":-0.004},{"k":"g","t":0.085,"v":0.002},{"k":"g","t":0.09,"v":0.001},{"k":"g","t":0.095,"v":-0.003},
      {"k":"g","t":0.1,"v":0.001},{"k":"g","t":0.1005,"v":-0.024},
      {"k":"g","t":0.105,"v":-0.017},{"k":"g","t":0.11,"v":-0.022},{"k":"g","t":0.115,"v":-0.015},{"k":"g","t":0.12,"v":-0.017},{"k":"g","t":0.125,"v":-0.025},
      {"k":"g","t":0.13,"v":-0.024},{"k":"g","t":0.135,"v":-0.017},{"k":"g","t":0.14,"v":-0.016},{"k":"g","t":0.145,"v":-0.024},{"k":"g","t":0.15,"v":-0.022},
      {"k":"g","t":0.155,"v":-0.016},{"k":"g","t":0.16,"v":-0.018},{"k":"g","t":0.165,"v":-0.027},{"k":"g","t":0.17,"v":-0.026},{"k":"g","t":0.175,"v":-0.018},
      {"k":"g","t":0.18,"v":-0.019},{"k":"g","t":0.185,"v":-0.027},{"k":"g","t":0.19,"v":-0.025},{"k":"g","t":0.195,"v":-0.018},{"k":"g","t":0.2,"v":-0.021},
      {"k":"g","t":0.205,"v":-0.03},{"k":"g","t":0.21,"v":-0.029},{"k":"g","t":0.215,"v":-0.021},{"k":"g","t":0.22,"v":-0.022},{"k":"g","t":0.225,"v":-0.031},
      {"k":"g","t":0.23,"v":-0.031},{"k":"g","t":0.235,"v":-0.023},{"k":"g","t":0.24,"v":-0.024},{"k":"g","t":0.245,"v":-0.033},{"k":"g","t":0.25,"v":-0.033},
      {"k":"g","t":0.255,"v":-0.025},{"k":"g","t":0.26,"v":-0.026},{"k":"g","t":0.265,"v":-0.034},{"k":"g","t":0.27,"v":-0.03},{"k":"g","t":0.275,"v":-0.023},
      {"k":"g","t":0.28,"v":-0.025},{"k":"g","t":0.285,"v":-0.035},{"k":"g","t":0.29,"v":-0.034},{"k":"g","t":0.295,"v":-0.026},{"k":"g","t":0.3,"v":-0.027},
      {"k":"g","t":0.305,"v":-0.035},{"k":"g","t":0.31,"v":-0.032},{"k":"g","t":0.315,"v":-0.025},{"k":"g","t":0.32,"v":-0.026},{"k":"g","t":0.325,"v":-0.036},
      {"k":"g","t":0.33,"v":-0.035},{"k":"g","t":0.335,"v":-0.027},{"k":"g","t":0.34,"v":-0.028},{"k":"g","t":0.345,"v":-0.036},{"k":"g","t":0.35,"v":-0.033},
      {"k":"g","t":0.355,"v":-0.025},{"k":"g","t":0.36,"v":-0.027},{"k":"g","t":0.365,"v":-0.037},{"k":"g","t":0.37,"v":-0.036},{"k":"g","t":0.375,"v":-0.028},
      {"k":"g","t":0.38,"v":-0.029},{"k":"g","t":0.385,"v":-0.037},{"k":"g","t":0.39,"v":-0.034},{"k":"g","t":0.395,"v":-0.026},{"k":"g","t":0.4,"v":-0.026},
      {"k":"g","t":0.405,"v":-0.036},{"k":"g","t":0.41,"v":-0.035},{"k":"g","t":0.415,"v":-0.028},{"k":"g","t":0.42,"v":-0.03},{"k":"g","t":0.425,"v":-0.039},
      {"k":"g","t":0.43,"v":-0.038},{"k":"g","t":0.435,"v":-0.029},{"k":"g","t":0.44,"v":-0.029},{"k":"g","t":0.445,"v":-0.037},{"k":"g","t":0.45,"v":-0.034},
      {"k":"g","t":0.455,"v":-0.026},{"k":"g","t":0.46,"v":-0.027},{"k":"g","t":0.465,"v":-0.037},{"k":"g","t":0.47,"v":-0.036},{"k":"g","t":0.475,"v":-0.029},
      {"k":"g","t":0.48,"v":-0.03},{"k":"g","t":0.485,"v":-0.038},{"k":"g","t":0.49,"v":-0.035},{"k":"g","t":0.495,"v":-0.027},{"k":"g","t":0.5,"v":-0.028},
      {"k":"g","t":0.505,"v":-0.038},{"k":"g","t":0.51,"v":-0.037},{"k":"g","t":0.515,"v":-0.03},{"k":"g","t":0.52,"v":-0.031},{"k":"g","t":0.525,"v":-0.038},
      {"k":"g","t":0.53,"v":-0.036},{"k":"g","t":0.535,"v":-0.028},{"k":"g","t":0.54,"v":-0.029},{"k":"g","t":0.545,"v":-0.039},{"k":"g","t":0.55,"v":-0.038},
      {"k":"g","t":0.555,"v":-0.03},{"k":"g","t":0.56,"v":-0.032},{"k":"g","t":0.565,"v":-0.041},{"k":"g","t":0.57,"v":-0.04},{"k":"g","t":0.575,"v":-0.031},
      {"k":"g","t":0.58,"v":-0.031},{"k":"g","t":0.585,"v":-0.039},{"k":"g","t":0.59,"v":-0.037},{"k":"g","t":0.595,"v":-0.03},{"k":"g","t":0.6,"v":-0.033},
      {"k":"g","t":0.6005,"v":-0.06},{"k":"g","t":0.602,"v":-0.03},{"k":"g","t":0.605,"v":-0.02},{"k":"g","t":0.61,"v":-0.008},{"k":"g","t":0.615,"v":-0.002},
      {"k":"g","t":0.62,"v":-0.003},{"k":"g","t":0.625,"v":0.003},{"k":"g","t":0.63,"v":0.002},{"k":"g","t":0.635,"v":-0.004},{"k":"g","t":0.64,"v":-0.004},
      {"k":"g","t":0.645,"v":0.002},{"k":"g","t":0.65,"v":0.001},{"k":"g","t":0.655,"v":-0.004},{"k":"g","t":0.66,"v":-0.003},{"k":"g","t":0.665,"v":0.003},
      {"k":"g","t":0.67,"v":0.003},{"k":"g","t":0.675,"v":-0.003},{"k":"g","t":0.68,"v":-0.002},{"k":"g","t":0.685,"v":0.003},{"k":"g","t":0.69,"v":0.002},
      {"k":"g","t":0.695,"v":-0.004},{"k":"g","t":0.7,"v":-0.003},

      {"k":"h","t":0,"v":0},{"k":"h","t":0.005,"v":0.004},{"k":"h","t":0.01,"v":-0.005},{"k":"h","t":0.015,"v":-0.004},{"k":"h","t":0.02,"v":0.001},
      {"k":"h","t":0.025,"v":0.003},{"k":"h","t":0.03,"v":-0.004},{"k":"h","t":0.035,"v":-0.006},{"k":"h","t":0.04,"v":0.002},{"k":"h","t":0.045,"v":0.002},
      {"k":"h","t":0.05,"v":-0.006},{"k":"h","t":0.055,"v":-0.005},{"k":"h","t":0.06,"v":0},{"k":"h","t":0.065,"v":0.003},{"k":"h","t":0.07,"v":-0.005},
      {"k":"h","t":0.075,"v":-0.003},{"k":"h","t":0.08,"v":0.002},{"k":"h","t":0.085,"v":0.001},{"k":"h","t":0.09,"v":-0.004},{"k":"h","t":0.095,"v":-0.005},
      {"k":"h","t":0.0995,"v":-0.002},{"k":"h","t":0.1,"v":-0.06},{"k":"h","t":0.1005,"v":-0.045},{"k":"h","t":0.101,"v":-0.035},{"k":"h","t":0.102,"v":-0.03},
      {"k":"h","t":0.104,"v":-0.027},
      {"k":"h","t":0.105,"v":-0.024},{"k":"h","t":0.11,"v":-0.03},{"k":"h","t":0.115,"v":-0.022},{"k":"h","t":0.12,"v":-0.027},{"k":"h","t":0.125,"v":-0.02},
      {"k":"h","t":0.13,"v":-0.026},{"k":"h","t":0.135,"v":-0.021},{"k":"h","t":0.14,"v":-0.028},{"k":"h","t":0.145,"v":-0.023},{"k":"h","t":0.15,"v":-0.03},
      {"k":"h","t":0.155,"v":-0.025},{"k":"h","t":0.16,"v":-0.031},{"k":"h","t":0.165,"v":-0.026},{"k":"h","t":0.17,"v":-0.034},{"k":"h","t":0.175,"v":-0.028},
      {"k":"h","t":0.18,"v":-0.036},{"k":"h","t":0.185,"v":-0.03},{"k":"h","t":0.19,"v":-0.038},{"k":"h","t":0.195,"v":-0.031},{"k":"h","t":0.2,"v":-0.04},
      {"k":"h","t":0.205,"v":-0.034},{"k":"h","t":0.21,"v":-0.042},{"k":"h","t":0.215,"v":-0.036},{"k":"h","t":0.22,"v":-0.044},{"k":"h","t":0.225,"v":-0.038},
      {"k":"h","t":0.23,"v":-0.046},{"k":"h","t":0.235,"v":-0.039},{"k":"h","t":0.24,"v":-0.045},{"k":"h","t":0.245,"v":-0.04},{"k":"h","t":0.25,"v":-0.048},
      {"k":"h","t":0.255,"v":-0.041},{"k":"h","t":0.26,"v":-0.046},{"k":"h","t":0.265,"v":-0.038},{"k":"h","t":0.27,"v":-0.044},{"k":"h","t":0.275,"v":-0.037},
      {"k":"h","t":0.28,"v":-0.043},{"k":"h","t":0.285,"v":-0.036},{"k":"h","t":0.29,"v":-0.042},{"k":"h","t":0.295,"v":-0.038},{"k":"h","t":0.3,"v":-0.045},
      {"k":"h","t":0.305,"v":-0.039},{"k":"h","t":0.31,"v":-0.044},{"k":"h","t":0.315,"v":-0.036},{"k":"h","t":0.32,"v":-0.042},{"k":"h","t":0.325,"v":-0.037},
      {"k":"h","t":0.33,"v":-0.045},{"k":"h","t":0.335,"v":-0.04},{"k":"h","t":0.34,"v":-0.047},{"k":"h","t":0.345,"v":-0.039},{"k":"h","t":0.35,"v":-0.044},
      {"k":"h","t":0.355,"v":-0.037},{"k":"h","t":0.36,"v":-0.043},{"k":"h","t":0.365,"v":-0.038},{"k":"h","t":0.37,"v":-0.046},{"k":"h","t":0.375,"v":-0.04},
      {"k":"h","t":0.38,"v":-0.049},{"k":"h","t":0.385,"v":-0.041},{"k":"h","t":0.39,"v":-0.046},{"k":"h","t":0.395,"v":-0.039},{"k":"h","t":0.4,"v":-0.047},
      {"k":"h","t":0.405,"v":-0.042},{"k":"h","t":0.41,"v":-0.05},{"k":"h","t":0.415,"v":-0.044},{"k":"h","t":0.42,"v":-0.056},{"k":"h","t":0.425,"v":-0.045},
      {"k":"h","t":0.43,"v":-0.049},{"k":"h","t":0.435,"v":-0.041},{"k":"h","t":0.44,"v":-0.046},{"k":"h","t":0.445,"v":-0.039},{"k":"h","t":0.45,"v":-0.044},
      {"k":"h","t":0.455,"v":-0.037},{"k":"h","t":0.46,"v":-0.043},{"k":"h","t":0.465,"v":-0.036},{"k":"h","t":0.47,"v":-0.042},{"k":"h","t":0.475,"v":-0.038},
      {"k":"h","t":0.48,"v":-0.045},{"k":"h","t":0.485,"v":-0.039},{"k":"h","t":0.49,"v":-0.043},{"k":"h","t":0.495,"v":-0.036},{"k":"h","t":0.5,"v":-0.041},
      {"k":"h","t":0.505,"v":-0.037},{"k":"h","t":0.51,"v":-0.044},{"k":"h","t":0.515,"v":-0.038},{"k":"h","t":0.52,"v":-0.042},{"k":"h","t":0.525,"v":-0.035},
      {"k":"h","t":0.53,"v":-0.04},{"k":"h","t":0.535,"v":-0.036},{"k":"h","t":0.54,"v":-0.043},{"k":"h","t":0.545,"v":-0.037},{"k":"h","t":0.55,"v":-0.041},
      {"k":"h","t":0.555,"v":-0.034},{"k":"h","t":0.56,"v":-0.04},{"k":"h","t":0.565,"v":-0.036},{"k":"h","t":0.57,"v":-0.042},{"k":"h","t":0.575,"v":-0.035},
      {"k":"h","t":0.58,"v":-0.039},{"k":"h","t":0.585,"v":-0.034},{"k":"h","t":0.59,"v":-0.041},{"k":"h","t":0.595,"v":-0.036},{"k":"h","t":0.6,"v":-0.04},
      {"k":"h","t":0.6005,"v":-0.08},{"k":"h","t":0.601,"v":-0.05},{"k":"h","t":0.603,"v":-0.03},{"k":"h","t":0.606,"v":-0.018},{"k":"h","t":0.61,"v":-0.01},
      {"k":"h","t":0.615,"v":-0.006},{"k":"h","t":0.62,"v":-0.002},{"k":"h","t":0.625,"v":-0.007},{"k":"h","t":0.63,"v":-0.006},{"k":"h","t":0.635,"v":0},
      {"k":"h","t":0.64,"v":0.001},{"k":"h","t":0.645,"v":-0.006},{"k":"h","t":0.65,"v":-0.005},{"k":"h","t":0.655,"v":0.001},{"k":"h","t":0.66,"v":0},
      {"k":"h","t":0.665,"v":-0.005},{"k":"h","t":0.67,"v":-0.004},{"k":"h","t":0.675,"v":0.002},{"k":"h","t":0.68,"v":0.002},{"k":"h","t":0.685,"v":-0.004},
      {"k":"h","t":0.69,"v":-0.005},{"k":"h","t":0.695,"v":0.001},{"k":"h","t":0.7,"v":-0.001},

      {"k":"i","t":0,"v":0.003},{"k":"i","t":0.005,"v":-0.003},{"k":"i","t":0.01,"v":-0.002},{"k":"i","t":0.015,"v":0.004},{"k":"i","t":0.02,"v":0.004},
      {"k":"i","t":0.025,"v":-0.002},{"k":"i","t":0.03,"v":-0.001},{"k":"i","t":0.035,"v":0.005},{"k":"i","t":0.04,"v":0.003},{"k":"i","t":0.045,"v":-0.003},
      {"k":"i","t":0.05,"v":-0.003},{"k":"i","t":0.055,"v":0.003},{"k":"i","t":0.06,"v":0.004},{"k":"i","t":0.065,"v":-0.002},{"k":"i","t":0.07,"v":-0.002},
      {"k":"i","t":0.075,"v":0.004},{"k":"i","t":0.08,"v":0.003},{"k":"i","t":0.085,"v":-0.003},{"k":"i","t":0.09,"v":-0.001},{"k":"i","t":0.095,"v":0.004},
      {"k":"i","t":0.1,"v":0},{"k":"i","t":0.1005,"v":-0.02},
      {"k":"i","t":0.105,"v":-0.014},{"k":"i","t":0.11,"v":-0.019},{"k":"i","t":0.115,"v":-0.012},{"k":"i","t":0.12,"v":-0.013},{"k":"i","t":0.125,"v":-0.021},
      {"k":"i","t":0.13,"v":-0.021},{"k":"i","t":0.135,"v":-0.014},{"k":"i","t":0.14,"v":-0.015},{"k":"i","t":0.145,"v":-0.021},{"k":"i","t":0.15,"v":-0.019},
      {"k":"i","t":0.155,"v":-0.012},{"k":"i","t":0.16,"v":-0.013},{"k":"i","t":0.165,"v":-0.022},{"k":"i","t":0.17,"v":-0.022},{"k":"i","t":0.175,"v":-0.015},
      {"k":"i","t":0.18,"v":-0.016},{"k":"i","t":0.185,"v":-0.022},{"k":"i","t":0.19,"v":-0.02},{"k":"i","t":0.195,"v":-0.013},{"k":"i","t":0.2,"v":-0.014},
      {"k":"i","t":0.205,"v":-0.024},{"k":"i","t":0.21,"v":-0.024},{"k":"i","t":0.215,"v":-0.016},{"k":"i","t":0.22,"v":-0.017},{"k":"i","t":0.225,"v":-0.023},
      {"k":"i","t":0.23,"v":-0.021},{"k":"i","t":0.235,"v":-0.014},{"k":"i","t":0.24,"v":-0.015},{"k":"i","t":0.245,"v":-0.025},{"k":"i","t":0.25,"v":-0.025},
      {"k":"i","t":0.255,"v":-0.017},{"k":"i","t":0.26,"v":-0.018},{"k":"i","t":0.265,"v":-0.024},{"k":"i","t":0.27,"v":-0.022},{"k":"i","t":0.275,"v":-0.015},
      {"k":"i","t":0.28,"v":-0.016},{"k":"i","t":0.285,"v":-0.027},{"k":"i","t":0.29,"v":-0.027},{"k":"i","t":0.295,"v":-0.019},{"k":"i","t":0.3,"v":-0.019},
      {"k":"i","t":0.305,"v":-0.025},{"k":"i","t":0.31,"v":-0.023},{"k":"i","t":0.315,"v":-0.016},{"k":"i","t":0.32,"v":-0.017},{"k":"i","t":0.325,"v":-0.028},
      {"k":"i","t":0.33,"v":-0.028},{"k":"i","t":0.335,"v":-0.02},{"k":"i","t":0.34,"v":-0.02},{"k":"i","t":0.345,"v":-0.026},{"k":"i","t":0.35,"v":-0.024},
      {"k":"i","t":0.355,"v":-0.017},{"k":"i","t":0.36,"v":-0.018},{"k":"i","t":0.365,"v":-0.03},{"k":"i","t":0.37,"v":-0.03},{"k":"i","t":0.375,"v":-0.021},
      {"k":"i","t":0.38,"v":-0.021},{"k":"i","t":0.385,"v":-0.027},{"k":"i","t":0.39,"v":-0.025},{"k":"i","t":0.395,"v":-0.018},{"k":"i","t":0.4,"v":-0.019},
      {"k":"i","t":0.405,"v":-0.029},{"k":"i","t":0.41,"v":-0.029},{"k":"i","t":0.415,"v":-0.021},{"k":"i","t":0.42,"v":-0.022},{"k":"i","t":0.425,"v":-0.028},
      {"k":"i","t":0.43,"v":-0.027},{"k":"i","t":0.435,"v":-0.019},{"k":"i","t":0.44,"v":-0.02},{"k":"i","t":0.445,"v":-0.03},{"k":"i","t":0.45,"v":-0.03},
      {"k":"i","t":0.455,"v":-0.022},{"k":"i","t":0.46,"v":-0.023},{"k":"i","t":0.465,"v":-0.029},{"k":"i","t":0.47,"v":-0.028},{"k":"i","t":0.475,"v":-0.02},
      {"k":"i","t":0.48,"v":-0.021},{"k":"i","t":0.485,"v":-0.031},{"k":"i","t":0.49,"v":-0.031},{"k":"i","t":0.495,"v":-0.023},{"k":"i","t":0.5,"v":-0.024},
      {"k":"i","t":0.505,"v":-0.029},{"k":"i","t":0.51,"v":-0.028},{"k":"i","t":0.515,"v":-0.02},{"k":"i","t":0.52,"v":-0.02},{"k":"i","t":0.525,"v":-0.03},
      {"k":"i","t":0.53,"v":-0.03},{"k":"i","t":0.535,"v":-0.022},{"k":"i","t":0.54,"v":-0.022},{"k":"i","t":0.545,"v":-0.028},{"k":"i","t":0.55,"v":-0.027},
      {"k":"i","t":0.555,"v":-0.02},{"k":"i","t":0.56,"v":-0.021},{"k":"i","t":0.565,"v":-0.031},{"k":"i","t":0.57,"v":-0.031},{"k":"i","t":0.575,"v":-0.023},
      {"k":"i","t":0.58,"v":-0.024},{"k":"i","t":0.585,"v":-0.03},{"k":"i","t":0.59,"v":-0.029},{"k":"i","t":0.595,"v":-0.022},{"k":"i","t":0.6,"v":-0.025},
      {"k":"i","t":0.6005,"v":-0.05},{"k":"i","t":0.602,"v":-0.022},{"k":"i","t":0.605,"v":-0.012},{"k":"i","t":0.61,"v":-0.007},{"k":"i","t":0.615,"v":0.002},
      {"k":"i","t":0.62,"v":0.001},{"k":"i","t":0.625,"v":-0.004},{"k":"i","t":0.63,"v":-0.003},{"k":"i","t":0.635,"v":0.003},{"k":"i","t":0.64,"v":0.003},
      {"k":"i","t":0.645,"v":-0.003},{"k":"i","t":0.65,"v":-0.002},{"k":"i","t":0.655,"v":0.004},{"k":"i","t":0.66,"v":0.004},{"k":"i","t":0.665,"v":-0.002},
      {"k":"i","t":0.67,"v":-0.001},{"k":"i","t":0.675,"v":0.004},{"k":"i","t":0.68,"v":0.003},{"k":"i","t":0.685,"v":-0.003},{"k":"i","t":0.69,"v":-0.002},
      {"k":"i","t":0.695,"v":0.003},{"k":"i","t":0.7,"v":0.002},

      {"k":"j","t":0,"v":0.006},{"k":"j","t":0.005,"v":-0.004},{"k":"j","t":0.01,"v":0},{"k":"j","t":0.015,"v":0.007},{"k":"j","t":0.02,"v":0.005},
      {"k":"j","t":0.025,"v":-0.005},{"k":"j","t":0.03,"v":-0.006},{"k":"j","t":0.035,"v":0.004},{"k":"j","t":0.04,"v":0.011},{"k":"j","t":0.045,"v":0.001},
      {"k":"j","t":0.05,"v":-0.002},{"k":"j","t":0.055,"v":0.006},{"k":"j","t":0.06,"v":0.006},{"k":"j","t":0.065,"v":-0.004},{"k":"j","t":0.07,"v":-0.005},
      {"k":"j","t":0.075,"v":0.005},{"k":"j","t":0.08,"v":0.003},{"k":"j","t":0.085,"v":-0.006},{"k":"j","t":0.09,"v":-0.003},{"k":"j","t":0.095,"v":0.005},
      {"k":"j","t":0.1,"v":0.002},{"k":"j","t":0.105,"v":-0.005},{"k":"j","t":0.11,"v":-0.003},{"k":"j","t":0.115,"v":0.006},{"k":"j","t":0.12,"v":0.005},
      {"k":"j","t":0.125,"v":-0.004},{"k":"j","t":0.13,"v":-0.004},{"k":"j","t":0.135,"v":0.006},{"k":"j","t":0.14,"v":0.004},{"k":"j","t":0.145,"v":-0.005},
      {"k":"j","t":0.15,"v":-0.002},{"k":"j","t":0.155,"v":0.007},{"k":"j","t":0.16,"v":0.006},{"k":"j","t":0.165,"v":-0.003},{"k":"j","t":0.17,"v":-0.005},
      {"k":"j","t":0.175,"v":0.004},{"k":"j","t":0.18,"v":0.003},{"k":"j","t":0.185,"v":-0.006},{"k":"j","t":0.19,"v":-0.003},{"k":"j","t":0.195,"v":0.006},
      {"k":"j","t":0.2,"v":0.005},{"k":"j","t":0.205,"v":-0.004},{"k":"j","t":0.21,"v":-0.004},{"k":"j","t":0.215,"v":0.005},{"k":"j","t":0.22,"v":0.006},
      {"k":"j","t":0.225,"v":-0.003},{"k":"j","t":0.23,"v":-0.002},{"k":"j","t":0.235,"v":0.007},{"k":"j","t":0.24,"v":0.004},{"k":"j","t":0.245,"v":-0.005},
      {"k":"j","t":0.25,"v":-0.005},{"k":"j","t":0.255,"v":0.004},{"k":"j","t":0.26,"v":0.005},{"k":"j","t":0.265,"v":-0.004},{"k":"j","t":0.27,"v":-0.003},
      {"k":"j","t":0.275,"v":0.006},{"k":"j","t":0.28,"v":0.006},{"k":"j","t":0.285,"v":-0.003},{"k":"j","t":0.29,"v":-0.004},{"k":"j","t":0.295,"v":0.005},
      {"k":"j","t":0.3,"v":0.003},{"k":"j","t":0.305,"v":-0.005},{"k":"j","t":0.31,"v":-0.002},{"k":"j","t":0.315,"v":0.006},{"k":"j","t":0.32,"v":0.005},
      {"k":"j","t":0.325,"v":-0.004},{"k":"j","t":0.33,"v":-0.005},{"k":"j","t":0.335,"v":0.004},{"k":"j","t":0.34,"v":0.006},{"k":"j","t":0.345,"v":-0.003},
      {"k":"j","t":0.35,"v":-0.003},{"k":"j","t":0.355,"v":0.007},{"k":"j","t":0.36,"v":0.004},{"k":"j","t":0.365,"v":-0.005},{"k":"j","t":0.37,"v":-0.004},
      {"k":"j","t":0.375,"v":0.005},{"k":"j","t":0.38,"v":0.005},{"k":"j","t":0.385,"v":-0.004},{"k":"j","t":0.39,"v":-0.002},{"k":"j","t":0.395,"v":0.006},
      {"k":"j","t":0.4,"v":0.006},{"k":"j","t":0.405,"v":-0.003},{"k":"j","t":0.41,"v":-0.005},{"k":"j","t":0.415,"v":0.004},{"k":"j","t":0.42,"v":0.003},
      {"k":"j","t":0.425,"v":-0.006},{"k":"j","t":0.43,"v":-0.003},{"k":"j","t":0.435,"v":0.006},{"k":"j","t":0.44,"v":0.005},{"k":"j","t":0.445,"v":-0.004},
      {"k":"j","t":0.45,"v":-0.004},{"k":"j","t":0.455,"v":0.005},{"k":"j","t":0.46,"v":0.006},{"k":"j","t":0.465,"v":-0.003},{"k":"j","t":0.47,"v":-0.002},
      {"k":"j","t":0.475,"v":0.007},{"k":"j","t":0.48,"v":0.004},{"k":"j","t":0.485,"v":-0.005},{"k":"j","t":0.49,"v":-0.005},{"k":"j","t":0.495,"v":0.004},
      {"k":"j","t":0.5,"v":0.005},{"k":"j","t":0.505,"v":-0.004},{"k":"j","t":0.51,"v":-0.003},{"k":"j","t":0.515,"v":0.006},{"k":"j","t":0.52,"v":0.006},
      {"k":"j","t":0.525,"v":-0.003},{"k":"j","t":0.53,"v":-0.004},{"k":"j","t":0.535,"v":0.005},{"k":"j","t":0.54,"v":0.003},{"k":"j","t":0.545,"v":-0.005},
      {"k":"j","t":0.55,"v":-0.002},{"k":"j","t":0.555,"v":0.006},{"k":"j","t":0.56,"v":0.005},{"k":"j","t":0.565,"v":-0.004},{"k":"j","t":0.57,"v":-0.005},
      {"k":"j","t":0.575,"v":0.004},{"k":"j","t":0.58,"v":0.004},{"k":"j","t":0.585,"v":-0.005},{"k":"j","t":0.59,"v":-0.003},{"k":"j","t":0.595,"v":0.006},
      {"k":"j","t":0.6,"v":0.006},{"k":"j","t":0.605,"v":-0.003},{"k":"j","t":0.61,"v":-0.004},{"k":"j","t":0.615,"v":0.005},{"k":"j","t":0.62,"v":0.005},
      {"k":"j","t":0.625,"v":-0.004},{"k":"j","t":0.63,"v":-0.002},{"k":"j","t":0.635,"v":0.006},{"k":"j","t":0.64,"v":0.004},{"k":"j","t":0.645,"v":-0.005},
      {"k":"j","t":0.65,"v":-0.005},{"k":"j","t":0.655,"v":0.004},{"k":"j","t":0.66,"v":0.003},{"k":"j","t":0.665,"v":-0.004},{"k":"j","t":0.67,"v":-0.003},
      {"k":"j","t":0.675,"v":0.006},{"k":"j","t":0.68,"v":0.005},{"k":"j","t":0.685,"v":-0.003},{"k":"j","t":0.69,"v":-0.004},{"k":"j","t":0.695,"v":0.005},
      {"k":"j","t":0.7,"v":0.003}
    ]
  },
  "layer": [
    {
      "mark": {"type": "line", "color": "#000000"},
      "encoding": {
        "x": {
          "field": "t",
          "type": "quantitative",
          "scale": {"domain": [0, 0.7], "nice": false, "zero": false},
          "axis": {
            "orient": "bottom",
            "values": [0.1, 0.6],
            "labelExpr": "'' + datum.value",
            "title": "t [s]",
            "grid": false,
            "domainColor": "#666666",
            "tickColor": "#666666",
            "tickSize": -5,
            "labelFont": "DejaVu Sans",
            "labelFontSize": 23,
            "labelColor": "#262626",
            "labelBaseline": "alphabetic",
            "labelPadding": 32,
            "titleFont": "DejaVu Sans",
            "titleFontSize": 24,
            "titleFontWeight": "normal",
            "titleColor": "#262626",
            "titleX": 300,
            "titleY": 65,
            "titleBaseline": "alphabetic",
            "titleAlign": "center"
          }
        },
        "y": {
          "field": "v",
          "type": "quantitative",
          "scale": {"domain": [-0.1385, 0.1305], "nice": false, "zero": false},
          "axis": {
            "orient": "left",
            "values": [-0.1, -0.05, 0, 0.05, 0.1],
            "labelExpr": "'' + datum.value",
            "title": "I [nA]",
            "grid": false,
            "domainColor": "#666666",
            "tickColor": "#666666",
            "tickSize": -5,
            "labelFont": "DejaVu Sans",
            "labelFontSize": 23,
            "labelColor": "#262626",
            "labelAlign": "center",
            "labelBaseline": "middle",
            "labelPadding": 47,
            "titleFont": "DejaVu Sans",
            "titleFontSize": 24,
            "titleFontWeight": "normal",
            "titleColor": "#262626",
            "titleAngle": 270,
            "titleX": -79,
            "titleY": 234,
            "titleBaseline": "alphabetic",
            "titleAlign": "center"
          }
        },
        "detail": {"field": "k", "type": "nominal"},
        "strokeWidth": {
          "condition": {"test": "indexof(['a', 'g', 'h', 'i'], datum.k) >= 0", "value": 1.3},
          "value": 2.2
        }
      }
    },
    {
      "mark": {"type": "line", "strokeOpacity": 0},
      "encoding": {
        "x": {
          "field": "t",
          "type": "quantitative",
          "scale": {"domain": [0, 0.7], "nice": false, "zero": false},
          "axis": {
            "orient": "top",
            "labels": false,
            "ticks": false,
            "domain": false,
            "grid": false,
            "title": "25 °C\u00a0 Activation",
            "titleFont": "DejaVu Sans",
            "titleFontSize": 19,
            "titleFontWeight": "normal",
            "titleColor": "#000000",
            "titleX": 600,
            "titleY": 2,
            "titleAlign": "right",
            "titleBaseline": "alphabetic"
          }
        },
        "y": {
          "field": "v",
          "type": "quantitative",
          "scale": {"domain": [-0.1385, 0.1305], "nice": false, "zero": false},
          "axis": {
            "orient": "right",
            "labels": false,
            "ticks": false,
            "domain": false,
            "grid": false,
            "title": "BBP Channelpedia ID 31740 rep 2",
            "titleFont": "DejaVu Sans",
            "titleFontSize": 13,
            "titleFontWeight": "normal",
            "titleColor": "#000000",
            "titleAngle": 270,
            "titleX": 12,
            "titleY": 230,
            "titleAlign": "center",
            "titleBaseline": "middle"
          }
        },
        "detail": {"field": "k", "type": "nominal"}
      }
    }
  ],
  "resolve": {"axis": {"x": "independent", "y": "independent"}}
}
